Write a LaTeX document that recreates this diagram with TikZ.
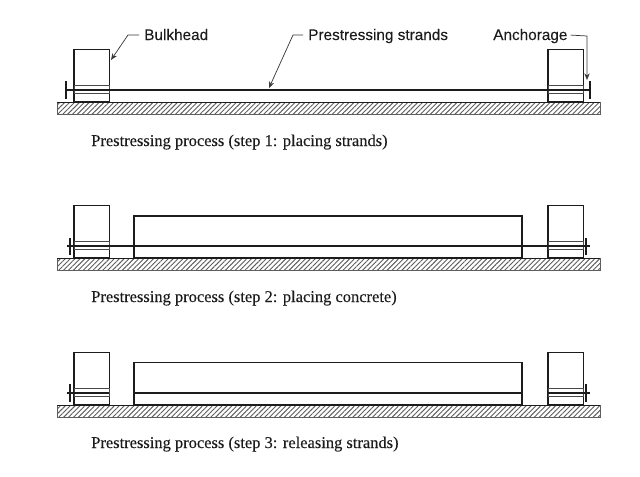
\documentclass[tikz,border=0pt]{standalone}
\usepackage{fontspec}
\setmainfont{Liberation Serif}
\setsansfont{Liberation Sans}
\newfontfamily\captfont[FakeBold=0.2]{Liberation Serif}
\newfontfamily\lblfont[FakeBold=0.1]{Liberation Sans}
\usepackage{xcolor}
\usetikzlibrary{arrows.meta,patterns.meta}
\definecolor{cInk}{HTML}{1C1C1C}
\definecolor{cHatch}{HTML}{5E5E5E}
\definecolor{cLead}{HTML}{3A3A3A}
\tikzset{
  ground/.style={rectangle, anchor=north west, inner sep=0pt, outer sep=0pt, minimum width=407.5pt, minimum height=9pt,
                 draw=cHatch, line width=0.4pt, pattern={Lines[angle=45, distance=2.6pt, line width=0.7pt]}, pattern color=cHatch},
  groundtop/.style={line width=0.75pt, draw=cInk},
  bulk/.style={rectangle, anchor=south west, inner sep=0pt, outer sep=0pt, minimum width=26.3pt, minimum height=39.6pt,
               draw=cInk, line width=0.85pt},
  duct/.style={rectangle, anchor=south west, inner sep=0pt, outer sep=0pt, minimum width=26.3pt, minimum height=5.4pt,
               draw=cInk!80, line width=0.55pt},
  beam/.style={rectangle, anchor=south west, inner sep=0pt, outer sep=0pt, minimum width=291pt, draw=cInk, line width=0.85pt},
  plate/.style={rectangle, inner sep=0pt, outer sep=0pt, minimum width=2.1pt, minimum height=12.8pt, fill=cInk},
  strand/.style={line width=1.7pt, draw=cInk},
  lead/.style={-{Stealth[length=5pt,width=4pt]}, line width=0.55pt, draw=cLead},
  lbl/.style={anchor=base west, inner sep=0pt, font=\lblfont\fontsize{11.5pt}{13pt}\selectfont, text=cInk},
  capt/.style={anchor=base west, inner sep=0pt, font=\captfont\fontsize{12.35pt}{14pt}\selectfont, text=cInk},
}
\begin{document}
\begin{tikzpicture}[x=0.75pt,y=-0.75pt]
  \useasboundingbox (0,0) rectangle (640,476);
  % ground, bulkheads and ducts of the three steps
  \foreach \p/\g in {A/102,B/258,C/405}{
    \node[ground] (gnd\p) at (57,\g) {};
    \node[bulk] (bulkL\p) at (74,\g) {};
    \node[bulk] (bulkR\p) at (548,\g) {};
    \node[duct] (ductL\p) at (74,\g-9) {};
    \node[duct] (ductR\p) at (548,\g-9) {};
    \draw[groundtop] (gnd\p.north west) -- (gnd\p.north east);
  }
  % step 1
  \node[plate] (plateLA) at (66,90) {};
  \node[plate] (plateRA) at (590,90) {};
  \draw[strand] (plateLA) -- (plateRA);
  \node[lbl] (lblBulk) at (144,40) {Bulkhead};
  \node[lbl] (lblStrand) at (308,40) {Prestressing strands};
  \node[lbl] (lblAnch) at (493,40) {Anchorage};
  \coordinate (kneeBulk) at (128,35);
  \coordinate (tipBulk) at (111,60);
  \coordinate (kneeStrand) at (293,35);
  \coordinate (tipStrand) at (269,88);
  \coordinate (kneeAnch) at (587,36);
  \coordinate (tipAnch) at (587,80);
  \draw[lead] ([xshift=-3.7pt,yshift=3.7pt]lblBulk.base west) -- (kneeBulk) -- (tipBulk);
  \draw[lead] ([xshift=-3.7pt,yshift=3.7pt]lblStrand.base west) -- (kneeStrand) -- (tipStrand);
  \draw[lead] ([xshift=2.2pt,yshift=3.7pt]lblAnch.base east) -- (kneeAnch) -- (tipAnch);
  \node[capt] (capA) at (91,146) {Prestressing process (step 1: placing strands)};
  % step 2
  \node[beam, minimum height=31.5pt] (beamB) at (134,258) {};
  \node[plate] (plateLB) at (70,246.5) {};
  \node[plate] (plateRB) at (586,246.5) {};
  \coordinate (endLB) at (67,246);
  \coordinate (endRB) at (590,246);
  \draw[strand] (endLB) -- (endRB);
  \node[capt] (capB) at (91,302) {Prestressing process (step 2: placing concrete)};
  % step 3
  \node[beam, minimum height=32.2pt] (beamC) at (134,405) {};
  \node[plate] (plateLC) at (70,393) {};
  \node[plate] (plateRC) at (586,393) {};
  \coordinate (endLC) at (67,393);
  \coordinate (endRC) at (590,393);
  \coordinate (inLC) at (134,393);
  \coordinate (inRC) at (522,393);
  \coordinate (outLC) at (109,393);
  \coordinate (outRC) at (548,393);
  \draw[strand] (endLC) -- (outLC);
  \draw[strand] (inLC) -- (inRC);
  \draw[strand] (outRC) -- (endRC);
  \node[capt] (capC) at (91,448) {Prestressing process (step 3: releasing strands)};
\end{tikzpicture}
\end{document}
